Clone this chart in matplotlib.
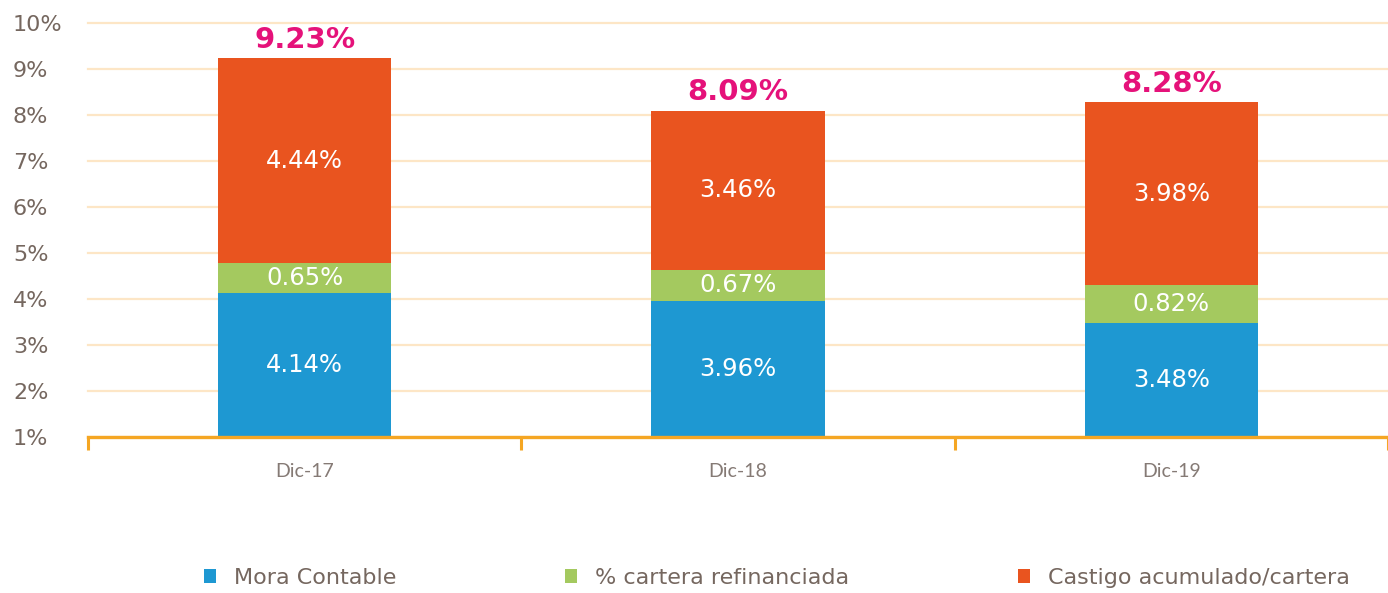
import matplotlib
matplotlib.use("Agg")
import matplotlib.pyplot as plt
from matplotlib.patches import Patch
import numpy as np

# Data
periods = ["Dic-17", "Dic-18", "Dic-19"]
mora_contable = [4.14, 3.96, 3.48]
cartera_refinanciada = [0.65, 0.67, 0.82]
castigo_acumulado = [4.44, 3.46, 3.98]
totals = [9.23, 8.09, 8.28]
series_names = ["Mora Contable", "% cartera refinanciada", "Castigo acumulado/cartera"]
y_ticks = [1, 2, 3, 4, 5, 6, 7, 8, 9, 10]

colors = ["#1E98D2", "#A4C95F", "#E9541F"]
total_color = "#E5127A"
axis_color = "#F5A623"
grid_color = "#FDE6C6"
text_color = "#75675F"
cat_color = "#857A75"

fig = plt.figure(figsize=(13.88, 5.93), dpi=100)
ax = fig.add_axes([88 / 1388, 1 - 437 / 593, 1 - 88 / 1388, (437 - 23) / 593])

x = np.arange(len(periods))
width = 0.4
series = [mora_contable, cartera_refinanciada, castigo_acumulado]
bottom = np.zeros(len(periods))
for vals, col in zip(series, colors):
    vals = np.array(vals)
    ax.bar(x, vals, width, bottom=bottom, color=col, zorder=3)
    for xi, b, v in zip(x, bottom, vals):
        mid = b + v / 2
        if b == 0:
            # centre within the visible part above the 1% floor
            mid = 1 + (b + v - 1) / 2
        ax.text(xi, mid, f"{v:.2f}%", ha="center", va="center",
                color="white", fontsize=17.5, zorder=4)
    bottom = bottom + vals

for xi, t in zip(x, totals):
    ax.text(xi, t + 0.1, f"{t:.2f}%", ha="center", va="bottom",
            color=total_color, fontsize=21, fontweight="bold", zorder=4)

ax.set_xlim(-0.5, 2.5)
ax.set_ylim(1, 10)
ax.set_yticks(y_ticks)
ax.set_yticklabels([f"{v}%" for v in y_ticks], ha="left", fontsize=16, color=text_color)
ax.tick_params(axis="y", length=0, pad=54)

ax.set_xticks(x)
ax.set_xticklabels(periods, fontsize=14, color=cat_color, fontfamily="Lato")
ax.tick_params(axis="x", which="major", length=0, pad=19)
ax.set_xticks([-0.5, 0.5, 1.5, 2.5], minor=True)
ax.tick_params(axis="x", which="minor", length=9.5, width=2.2, color=axis_color, direction="out")

for s in ["left", "right", "top"]:
    ax.spines[s].set_visible(False)
ax.spines["bottom"].set_color(axis_color)
ax.spines["bottom"].set_linewidth(2.4)
ax.spines["bottom"].set_zorder(5)

ax.yaxis.grid(True, color=grid_color, linewidth=1.6, zorder=0)
for gl in ax.get_ygridlines():
    gl.set_clip_on(False)
ax.set_axisbelow(True)

handles = [Patch(facecolor=c, edgecolor="none") for c in colors]
leg = fig.legend(handles, series_names, loc="center", bbox_to_anchor=(0.5595, 1 - 578 / 593),
                 ncol=3, frameon=False, fontsize=16, handlelength=0.55, handleheight=0.55,
                 handletextpad=0.8, columnspacing=7.6)
for t in leg.get_texts():
    t.set_color(text_color)

fig.savefig("out.png", dpi=100)
